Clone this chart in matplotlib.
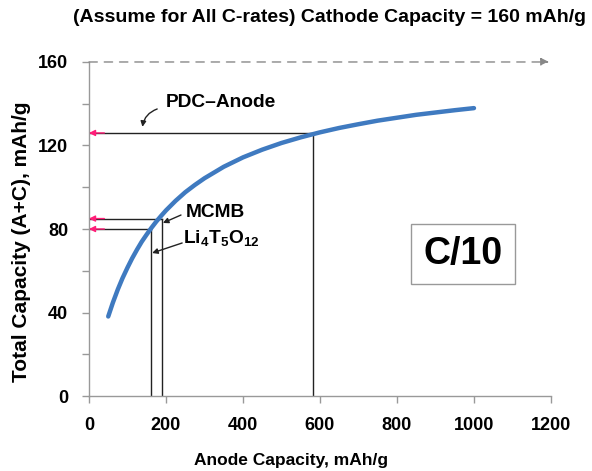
import matplotlib
matplotlib.use("Agg")
import matplotlib.pyplot as plt
from matplotlib.patches import FancyArrowPatch

plt.rcParams['font.family'] = ['Liberation Sans', 'DejaVu Sans']
plt.rcParams['mathtext.fontset'] = 'custom'
plt.rcParams['mathtext.rm'] = 'Liberation Sans'
plt.rcParams['mathtext.bf'] = 'Liberation Sans:bold'

# Data
anode_cap = [50, 62, 75, 87, 100, 112, 125, 137, 150, 162, 175, 187, 200, 225, 250,
             275, 300, 350, 400, 450, 500, 550, 600, 650, 700, 750, 800, 850, 900,
             950, 1000]
total_cap = [38.1, 44.7, 51.1, 56.4, 61.5, 65.9, 70.2, 73.9, 77.4, 80.5, 83.6, 86.2,
             88.9, 93.5, 97.6, 101.1, 104.3, 109.8, 114.3, 118.0, 121.2, 123.9,
             126.3, 128.4, 130.2, 131.9, 133.3, 134.7, 135.8, 136.9, 137.9]
cathode_cap = 160
markers_x = [161, 190, 582]          # Li4T5O12, MCMB, PDC-Anode
markers_y = [80, 85, 126]
xticks = [0, 200, 400, 600, 800, 1000, 1200]
yticks = [0, 40, 80, 120, 160]
yticks_minor = [20, 60, 100, 140]

fig = plt.figure(figsize=(5.92, 4.71), dpi=100)
ax = fig.add_axes([0.1503, 0.1592, 0.7804, 0.7092])

ax.set_xlim(0, 1200)
ax.set_ylim(0, 160)

# curve
ax.plot(anode_cap, total_cap, color='#3F7AC0', lw=3.2, solid_capstyle='round',
        solid_joinstyle='round', zorder=3)

# reference lines
for mx, my in zip(markers_x, markers_y):
    ax.plot([mx, mx], [0, my], color='#222222', lw=1.0, zorder=2)
    ax.plot([mx, 0], [my, my], color='#222222', lw=1.0, zorder=2)
    ax.annotate('', xy=(0, my), xytext=(40, my),
                arrowprops=dict(arrowstyle='-|>', color='#FF1E78', lw=1.0,
                                mutation_scale=9, shrinkA=0, shrinkB=0),
                annotation_clip=False, zorder=4)

# dashed cathode capacity line
ax.annotate('', xy=(1195, cathode_cap), xytext=(0, cathode_cap),
            arrowprops=dict(arrowstyle='-|>', color='#888888', lw=1.0,
                            linestyle=(0, (6, 5)), mutation_scale=12,
                            shrinkA=0, shrinkB=0),
            annotation_clip=False)

# labels with arrows
ax.text(200, 140.4, 'PDC\u2013Anode', fontsize=13.8, fontweight='bold', ha='left', va='center')
ax.add_patch(FancyArrowPatch((184, 137.9), (138, 127.6),
             connectionstyle='arc3,rad=0.35', arrowstyle='-|>', mutation_scale=8,
             color='#222222', lw=1.0))
ax.text(252, 87.7, 'MCMB', fontsize=13.8, fontweight='bold', ha='left', va='center')
ax.annotate('', xy=(192, 82.9), xytext=(239, 86.7),
            arrowprops=dict(arrowstyle='-|>', color='#222222', lw=1.0,
                            mutation_scale=8, shrinkA=0, shrinkB=0))
ax.text(244, 75.2, r'Li$_\mathbf{4}$T$_\mathbf{5}$O$_\mathbf{12}$', fontsize=13.8,
        fontweight='bold', ha='left', va='center')
ax.annotate('', xy=(164, 68.5), xytext=(242, 73.3),
            arrowprops=dict(arrowstyle='-|>', color='#222222', lw=1.0,
                            mutation_scale=8, shrinkA=0, shrinkB=0))

# C/10 box
ax.text(972, 68, 'C/10', fontsize=27, fontweight='bold', ha='center', va='center',
        bbox=dict(boxstyle='square,pad=0.33', fc='white', ec='#999999', lw=1.0))

# axes styling
for s in ['top', 'right']:
    ax.spines[s].set_visible(False)
for s in ['left', 'bottom']:
    ax.spines[s].set_color('#999999')
    ax.spines[s].set_linewidth(1.0)
ax.set_xticks(xticks)
ax.set_yticks(yticks)
ax.set_yticks(yticks_minor, minor=True)
ax.tick_params(which='both', direction='out', length=5, width=1.0, color='#999999',
               labelsize=13, pad=10)
for lab in ax.get_xticklabels() + ax.get_yticklabels():
    lab.set_fontweight('bold')

fig.text(291 / 592, 1 - 461 / 471, 'Anode Capacity, mAh/g', fontsize=12.5,
         fontweight='bold', ha='center', va='center')
fig.text(21.5 / 592, 1 - 242 / 471, 'Total Capacity (A+C), mAh/g', fontsize=15,
         fontweight='bold', ha='center', va='center', rotation=90)

fig.text(0.557, 0.962, '(Assume for All C-rates) Cathode Capacity = 160 mAh/g',
         fontsize=14, fontweight='bold', ha='center', va='center')

fig.savefig('out.png', dpi=100)
